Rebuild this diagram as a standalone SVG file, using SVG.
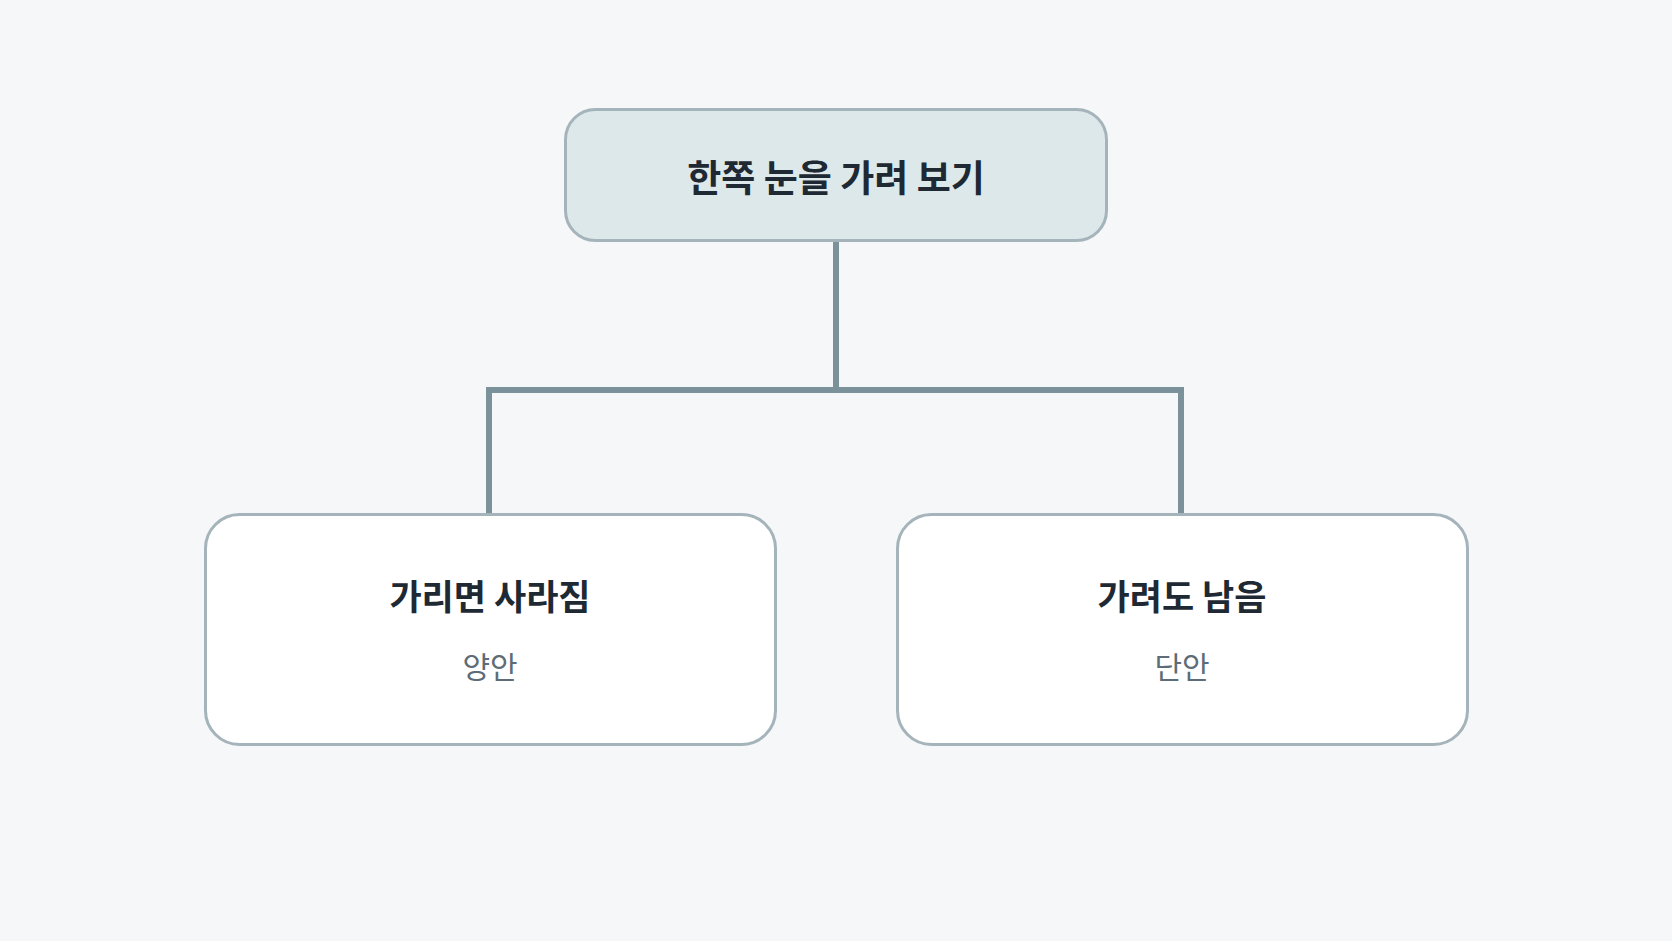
<svg xmlns="http://www.w3.org/2000/svg" width="1672" height="941" viewBox="0 0 1672 941">
<style>
.box{stroke:#a5b3bb;stroke-width:3}
.t{font-family:"Noto Sans CJK KR","Noto Sans",sans-serif;font-weight:700;fill:#1e2933;text-anchor:middle;dominant-baseline:central}
.s{font-family:"Noto Sans CJK KR","Noto Sans",sans-serif;font-weight:400;fill:#5d6c76;text-anchor:middle;dominant-baseline:central;font-size:30px}
</style>
<rect width="1672" height="941" fill="#f5f7f9"/>
<g id="connectors" fill="none" stroke="#7b929b" stroke-width="6">
<path d="M836 240V390M489 514V390H1181V514"/>
</g>
<g id="root"><rect class="box" x="565.5" y="109.5" width="541" height="131" rx="30" fill="#dde8ea"/>
<text class="t" x="836" y="176" font-size="37">한쪽 눈을 가려 보기</text></g>
<g id="left"><rect class="box" x="205.5" y="514.5" width="570" height="230" rx="34" fill="#fff"/>
<text class="t" x="490" y="594" font-size="35">가리면 사라짐</text>
<text class="s" x="490" y="665">양안</text></g>
<g id="right"><rect class="box" x="897.5" y="514.5" width="570" height="230" rx="34" fill="#fff"/>
<text class="t" x="1182" y="594" font-size="35">가려도 남음</text>
<text class="s" x="1182" y="665">단안</text></g>
</svg>
